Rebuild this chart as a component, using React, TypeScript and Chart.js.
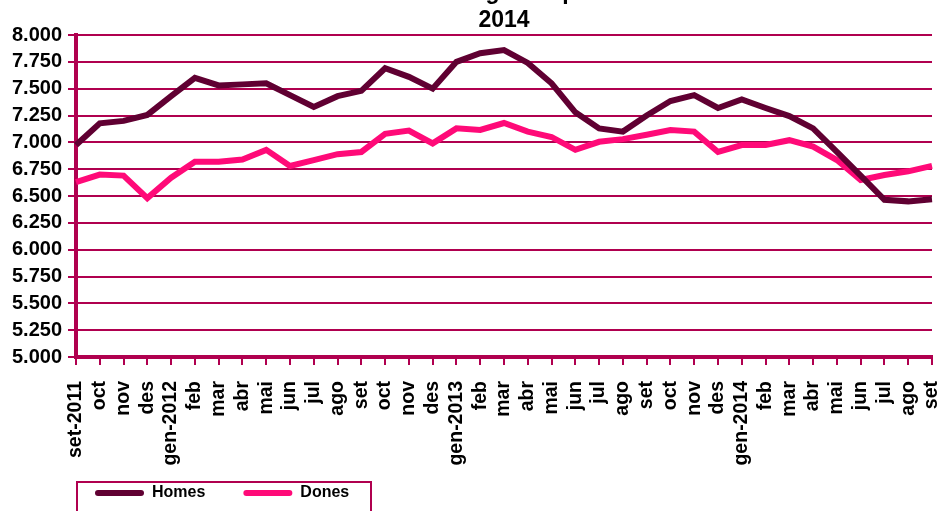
import { useEffect, useRef } from 'react';
import { Chart, registerables } from 'chart.js';

Chart.register(...registerables);

const categories = [
  'set-2011', 'oct', 'nov', 'des', 'gen-2012', 'feb', 'mar', 'abr', 'mai', 'jun', 'jul', 'ago',
  'set', 'oct', 'nov', 'des', 'gen-2013', 'feb', 'mar', 'abr', 'mai', 'jun', 'jul', 'ago',
  'set', 'oct', 'nov', 'des', 'gen-2014', 'feb', 'mar', 'abr', 'mai', 'jun', 'jul', 'ago', 'set',
];

const homes = [
  6975, 7177, 7200, 7255, 7430, 7600, 7530, 7540, 7550, 7440, 7330, 7430,
  7480, 7690, 7610, 7500, 7750, 7830, 7860, 7740, 7550, 7280, 7130, 7100,
  7250, 7385, 7440, 7320, 7400, 7320, 7245, 7130, 6910, 6690, 6465, 6450, 6470,
];

const dones = [
  6630, 6700, 6690, 6480, 6670, 6820, 6820, 6840, 6930, 6780, 6835, 6890,
  6910, 7080, 7110, 6990, 7130, 7115, 7180, 7100, 7050, 6930, 7005, 7030,
  7070, 7115, 7100, 6910, 6975, 6975, 7020, 6960, 6835, 6650, 6695, 6730, 6780,
];

const titleLines = ['Atur registrat per', '2014'];
const seriesNames = ['Homes', 'Dones'];
const yMin = 5000;
const yMax = 8000;
const yStep = 250;

const GRID = '#b0004f';
const HOMES_COLOR = '#600032';
const DONES_COLOR = '#ff0a78';
const FONT = "'Liberation Sans', Arial, sans-serif";

const formatThousands = (v: number) => {
  const n = Math.round(v);
  const th = Math.floor(n / 1000);
  const rest = String(n % 1000).padStart(3, '0');
  return `${th}.${rest}`;
};

const legendBorder = {
  id: 'legendBorder',
  afterDraw(chart: any) {
    const l = chart.legend;
    if (!l) return;
    const ctx = chart.ctx;
    ctx.save();
    ctx.strokeStyle = GRID;
    ctx.lineWidth = 2;
    ctx.strokeRect(l.left + 20, l.top + 35, 294, 60);
    ctx.restore();
  },
};

export default function App() {
  const ref = useRef<HTMLCanvasElement | null>(null);

  useEffect(() => {
    if (!ref.current) return;
    const chart = new Chart(ref.current, {
      type: 'line',
      data: {
        labels: categories,
        datasets: [
          {
            label: seriesNames[0],
            data: homes,
            borderColor: HOMES_COLOR,
            backgroundColor: HOMES_COLOR,
            borderWidth: 6,
            pointRadius: 0,
            tension: 0,
          },
          {
            label: seriesNames[1],
            data: dones,
            borderColor: DONES_COLOR,
            backgroundColor: DONES_COLOR,
            borderWidth: 6,
            pointRadius: 0,
            tension: 0,
          },
        ],
      },
      plugins: [legendBorder],
      options: {
        animation: false,
        responsive: false,
        devicePixelRatio: 1,
        layout: { padding: { left: 57, right: 6, top: 0, bottom: 0 } },
        plugins: {
          tooltip: { enabled: false },
          title: {
            display: true,
            text: titleLines,
            fullSize: false,
            color: '#000',
            font: { family: FONT, size: 23, weight: 'bold', lineHeight: 1.25 },
            padding: { top: -22.1, bottom: -0.4 },
          },
          legend: {
            display: true,
            position: 'bottom',
            align: 'start',
            fullSize: true,
            labels: {
              color: '#000',
              font: { family: FONT, size: 16, weight: 'bold' },
              boxWidth: 49,
              boxHeight: 6,
              padding: 38,
              useBorderRadius: true,
              borderRadius: 3,
              generateLabels: (chart: any) =>
                Chart.defaults.plugins.legend.labels
                  .generateLabels(chart)
                  .map((it: any) => ({ ...it, lineWidth: 0, fillStyle: it.strokeStyle })),
            },
          },
        },
        scales: {
          x: {
            type: 'category',
            offset: false,
            grid: {
              display: true,
              drawOnChartArea: false,
              drawTicks: true,
              tickLength: 8,
              color: GRID,
              lineWidth: 2,
            },
            border: { display: true, color: GRID, width: 4 },
            ticks: {
              autoSkip: false,
              maxRotation: 90,
              minRotation: 90,
              padding: 16,
              color: '#000',
              font: { family: FONT, size: 19.5, weight: 'bold' },
            },
            afterFit: (s: any) => {
              s.height = 90;
              s.paddingLeft = 0;
              s.paddingRight = 0;
              s._computeLabelArea = () => undefined;
            },
          },
          y: {
            type: 'linear',
            min: yMin,
            max: yMax,
            grid: {
              display: true,
              drawOnChartArea: true,
              drawTicks: true,
              tickLength: 8,
              color: GRID,
              lineWidth: 2,
            },
            border: { display: true, color: GRID, width: 4 },
            ticks: {
              stepSize: yStep,
              autoSkip: false,
              padding: 6,
              color: '#000',
              font: { family: FONT, size: 20, weight: 'bold' },
              callback: (v: any) => formatThousands(Number(v)),
            },
            afterFit: (s: any) => {
              s.width = 19;
              s.paddingTop = 0;
              s.paddingBottom = 0;
              s._computeLabelArea = () => undefined;
            },
          },
        },
      },
    });
    return () => chart.destroy();
  }, []);

  return (
    <div style={{ position: 'absolute', left: 0, top: 0, width: 938, height: 511, overflow: 'hidden' }}>
      <canvas ref={ref} width={938} height={511} style={{ display: 'block', width: 938, height: 511 }} />
    </div>
  );
}
